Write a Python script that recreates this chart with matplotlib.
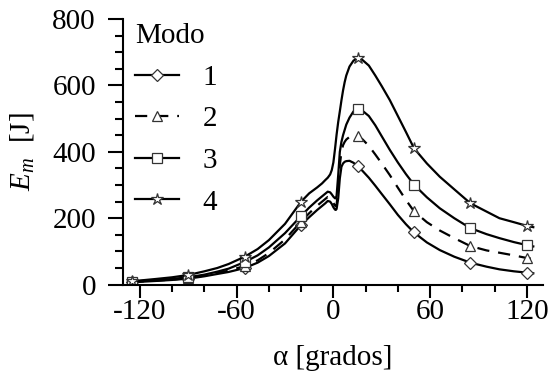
import matplotlib.pyplot as plt
from matplotlib.ticker import MultipleLocator

plt.rcParams['font.family'] = ['Liberation Serif', 'DejaVu Serif']
plt.rcParams['mathtext.fontset'] = 'custom'
plt.rcParams['mathtext.rm'] = 'Liberation Serif'
plt.rcParams['mathtext.it'] = 'Liberation Serif:italic'
plt.rcParams['font.size'] = 21

# angulo alfa [grados]
alpha = [-125, -110, -100, -90, -80, -72, -65, -55, -47, -40,
         -30, -20, -15, -10, -7, -5, -3.5, -2, -1, 0,
         1, 1.5, 2, 3, 4, 5, 6, 7, 8, 10,
         12.5, 15, 18, 22, 26, 30, 35, 40, 45, 50,
         58, 66, 75, 85, 95, 103, 112, 120, 124]

# energia E_m [J] por modo
e_modo1 = [7, 11, 14, 18, 25, 32, 38, 50, 66, 86,
           124, 180, 203, 225, 237, 245, 252, 250, 243, 233,
           226, 225, 228, 260, 320, 355, 365, 370, 372, 373,
           367, 357, 343, 322, 298, 273, 242, 210, 182, 157,
           127, 104, 84, 66, 54, 46, 40, 36, 34]
e_modo2 = [8, 12, 15, 20, 27, 35, 42, 56, 73, 95,
           136, 190, 215, 238, 250, 258, 264, 262, 255, 246,
           238, 236, 240, 290, 360, 400, 420, 430, 437, 445,
           450, 448, 438, 418, 392, 365, 330, 292, 255, 221,
           188, 163, 140, 116, 103, 96, 88, 80, 77]
e_modo3 = [9, 14, 17, 22, 30, 39, 48, 68, 88, 112,
           155, 207, 232, 254, 266, 274, 280, 278, 272, 265,
           260, 260, 268, 330, 400, 430, 450, 466, 482, 503,
           522, 529, 524, 508, 480, 447, 406, 368, 333, 301,
           263, 230, 200, 170, 152, 140, 128, 119, 115]
e_modo4 = [10, 17, 22, 29, 40, 50, 62, 84, 107, 134,
           183, 250, 275, 293, 305, 315, 322, 332, 345, 368,
           408, 430, 452, 490, 522, 555, 585, 610, 630, 657,
           675, 682, 677, 660, 630, 598, 556, 508, 460, 411,
           365, 325, 287, 245, 220, 200, 188, 177, 173]

alpha_marcas = [-125, -90, -55, -20, 15, 50, 85, 120]
modos = ['1', '2', '3', '4']

fig = plt.figure(figsize=(5.5, 3.82), dpi=100)
ax = fig.add_axes([0.2236, 0.255, 0.7636, 0.695])

marcas = [i for i, a in enumerate(alpha) if a in alpha_marcas]
estilos = [
    dict(marker='D', ms=6, ls='-'),
    dict(marker='^', ms=7, ls=(0, (5.5, 4))),
    dict(marker='s', ms=7.5, ls='-'),
    dict(marker='*', ms=9, ls='-'),
]
for e, modo, st in zip([e_modo1, e_modo2, e_modo3, e_modo4], modos, estilos):
    ax.plot(alpha, e, color='black', lw=1.6, markevery=marcas,
            mfc='white', mec='#333333', mew=0.9, label=modo, **st)

ax.set_xlim(-130.5, 130)
ax.set_ylim(0, 800)
ax.xaxis.set_major_locator(MultipleLocator(60))
ax.xaxis.set_minor_locator(MultipleLocator(20))
ax.yaxis.set_major_locator(MultipleLocator(200))
ax.yaxis.set_minor_locator(MultipleLocator(50))
ax.xaxis.set_major_formatter(plt.FuncFormatter(lambda v, p: f"{v:.0f}"))
ax.yaxis.set_major_formatter(plt.FuncFormatter(lambda v, p: f"{v:.0f}"))

for s in ['top', 'right']:
    ax.spines[s].set_visible(False)
for s in ['left', 'bottom']:
    ax.spines[s].set_linewidth(1.5)
ax.tick_params(which='major', direction='out', length=10.5, width=1.5, pad=9)
ax.tick_params(which='minor', direction='out', length=5.5, width=1.5)
ax.tick_params(axis='x', which='major', length=9.5, pad=1)
ax.tick_params(axis='x', which='minor', length=5)

ax.set_xlabel('\u03b1 [grados]', labelpad=14)
ax.set_ylabel('$E_m$  [J]', labelpad=12)

leg = ax.legend(title='Modo', loc='upper left', bbox_to_anchor=(-0.012, 1.05),
                frameon=False, alignment='left', handlelength=1.5,
                handletextpad=0.8, labelspacing=0.52, numpoints=1,
                borderaxespad=0.2)
leg.get_title().set_fontsize(21)

fig.savefig('out.png', dpi=100)
